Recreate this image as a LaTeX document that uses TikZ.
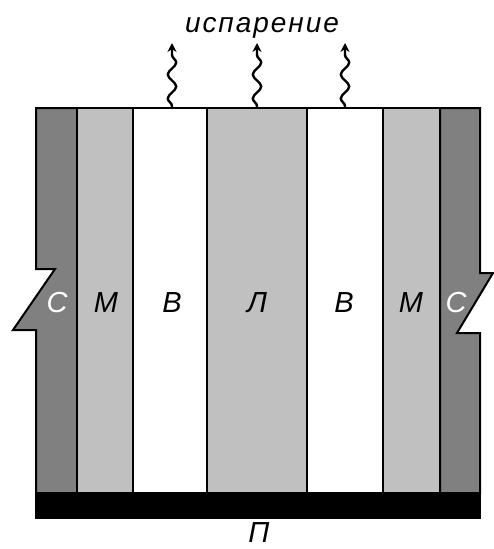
\documentclass[tikz,border=0pt]{standalone}
\usepackage{fontspec}
\setmainfont{Liberation Sans}
\newfontfamily\spacedsans[LetterSpace=7]{Liberation Sans}
\usetikzlibrary{decorations.pathmorphing,arrows.meta}
\definecolor{darkwall}{HTML}{808080}
\definecolor{lightcol}{HTML}{C0C0C0}
\tikzset{
  col/.style={draw=black,line width=2pt,line join=miter},
  lbl/.style={font=\fontsize{29}{34}\selectfont\itshape,inner sep=0pt},
  vapour/.style={line width=2.4pt,decorate,decoration={snake,amplitude=4.2pt,segment length=24pt,pre length=2pt,post length=8pt},-{Stealth[length=9pt,width=9pt]}}
}
\begin{document}
\begin{tikzpicture}[x=1pt,y=-1pt]
\useasboundingbox (0,0) rectangle (494,549);
% columns
\draw[col,fill=darkwall] (36,108) -- (77,108) -- (77,493) -- (36,493) -- (36,330) -- (13,330) -- (55,269) -- (36,269) -- cycle;
\draw[col,fill=lightcol] (77,108) rectangle (133,493);
\draw[col,fill=white] (133,108) rectangle (207,493);
\draw[col,fill=lightcol] (207,108) rectangle (307,493);
\draw[col,fill=white] (307,108) rectangle (383,493);
\draw[col,fill=lightcol] (383,108) rectangle (440,493);
\draw[col,fill=darkwall] (440,108) -- (480,108) -- (480,273) -- (493,273) -- (457,333) -- (480,333) -- (480,493) -- (440,493) -- cycle;
% bottom bar
\fill[black] (35,492) rectangle (481,519);
% labels
\node[lbl,text=white] (c1) at (57,303) {С};
\node[lbl] (m1) at (106,303) {М};
\node[lbl] (b1) at (172,303) {В};
\node[lbl] (l) at (257,303) {Л};
\node[lbl] (b2) at (344,303) {В};
\node[lbl] (m2) at (411,303) {М};
\node[lbl,text=white] (c2) at (456,303) {С};
\node[lbl] (p) at (259,533) {П};
\node[inner sep=0pt,font=\spacedsans\fontsize{28}{32}\selectfont\itshape,anchor=base] (isp) at (262,32) {испарение};
% vapour arrows
\coordinate (s1) at (172,108); \coordinate (t1) at (172,43);
\coordinate (s2) at (257,108); \coordinate (t2) at (257,43);
\coordinate (s3) at (345,108); \coordinate (t3) at (345,43);
\draw[vapour] (s1) -- (t1);
\draw[vapour] (s2) -- (t2);
\draw[vapour] (s3) -- (t3);
\end{tikzpicture}
\end{document}
